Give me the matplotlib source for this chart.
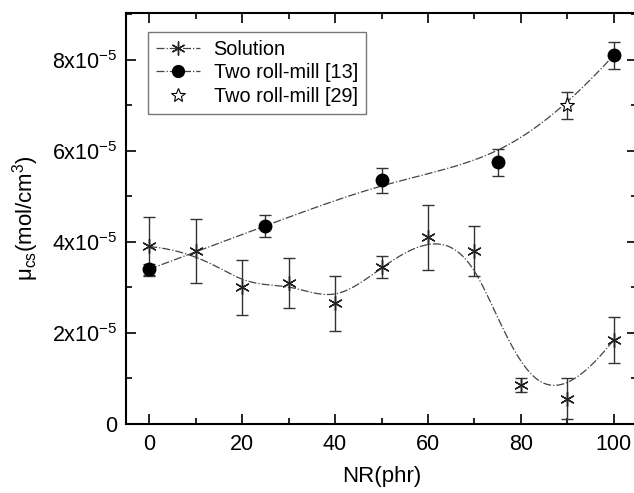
import numpy as np
import matplotlib
matplotlib.use("Agg")
import matplotlib.pyplot as plt

plt.rcParams['font.family'] = ['Liberation Sans', 'DejaVu Sans']
plt.rcParams['mathtext.fontset'] = 'custom'
plt.rcParams['mathtext.rm'] = 'Liberation Sans'
plt.rcParams['mathtext.it'] = 'Liberation Sans'

# Data (values in 1e-5 mol/cm^3)
sol_x = [0, 10, 20, 30, 40, 50, 60, 70, 80, 90, 100]
sol_y = [3.9, 3.8, 3.0, 3.1, 2.65, 3.45, 4.1, 3.8, 0.85, 0.55, 1.85]
sol_err = [0.65, 0.7, 0.6, 0.55, 0.6, 0.25, 0.72, 0.55, 0.15, 0.45, 0.5]

mill13_x = [0, 25, 50, 75, 100]
mill13_y = [3.4, 4.35, 5.35, 5.75, 8.1]
mill13_err = [0.12, 0.25, 0.27, 0.3, 0.3]

mill29_x = [90]
mill29_y = [7.0]
mill29_err = [0.3]

yticks = [0, 2, 4, 6, 8]
ytick_labels = ['0', r'2x10$^{-5}$', r'4x10$^{-5}$', r'6x10$^{-5}$', r'8x10$^{-5}$']
xticks = [0, 20, 40, 60, 80, 100]


def bspline(px, py, num=400):
    """Clamped uniform cubic B-spline using the points as control points."""
    P = np.column_stack([px, py]).astype(float)
    n = len(P)
    k = 3
    inner = np.arange(1, n - k)
    t = np.concatenate([np.zeros(k + 1), inner, np.full(k + 1, n - k)]).astype(float)
    u = np.linspace(0, n - k, num)
    u[-1] -= 1e-9
    N = np.zeros((num, len(t) - 1))
    for i in range(len(t) - 1):
        N[:, i] = ((u >= t[i]) & (u < t[i + 1])).astype(float)
    for d in range(1, k + 1):
        Nn = np.zeros((num, len(t) - 1 - d))
        for i in range(len(t) - 1 - d):
            a = 0.0
            if t[i + d] != t[i]:
                a = (u - t[i]) / (t[i + d] - t[i]) * N[:, i]
            b = 0.0
            if t[i + d + 1] != t[i + 1]:
                b = (t[i + d + 1] - u) / (t[i + d + 1] - t[i + 1]) * N[:, i + 1]
            Nn[:, i] = a + b
        N = Nn
    C = N @ P
    return C[:, 0], C[:, 1]


fig = plt.figure(figsize=(6.34, 4.93), dpi=100)
# axes: left spine at x=126px, right spine just past the canvas edge, top at 13px, bottom at 424px
ax = fig.add_axes([126 / 634, 1 - 424 / 493, 511 / 634, 411 / 493])

col = '#333333'
cx, cy = bspline(sol_x, sol_y)
ax.plot(cx, cy, color='#444444', lw=0.9, ls='-.', zorder=2)
mx = mill13_x[:4] + mill29_x + mill13_x[4:]
my = mill13_y[:4] + mill29_y + mill13_y[4:]
cx2, cy2 = bspline(mx, my)
ax.plot(cx2, cy2, color='#444444', lw=0.9, ls='-.', zorder=2)

asterisk = (6, 2, 0)
ax.errorbar(sol_x, sol_y, yerr=sol_err, fmt='none', ecolor=col, elinewidth=1.0, capsize=4.5, capthick=1.0, zorder=3)
ax.plot(sol_x, sol_y, ls='none', marker=asterisk, ms=10.5, mec='#222222', mew=1.0, zorder=4)
ax.errorbar(mill13_x, mill13_y, yerr=mill13_err, fmt='none', ecolor=col, elinewidth=1.0, capsize=4.5, capthick=1.0, zorder=3)
ax.plot(mill13_x, mill13_y, ls='none', marker='o', ms=9, mfc='black', mec='black', zorder=4)
ax.errorbar(mill29_x, mill29_y, yerr=mill29_err, fmt='none', ecolor=col, elinewidth=1.0, capsize=4.5, capthick=1.0, zorder=3)
ax.plot(mill29_x, mill29_y, ls='none', marker='*', ms=11, mfc='white', mec='black', mew=0.8, zorder=4)

h1, = ax.plot([], [], color='#444444', lw=0.9, ls='-.', marker=asterisk, ms=10, mec='#222222', mew=1.0)
h2, = ax.plot([], [], color='#444444', lw=0.9, ls='-.', marker='o', ms=8.5, mfc='black', mec='black')
h3, = ax.plot([], [], ls='none', marker='*', ms=10, mfc='white', mec='black', mew=0.8)
leg = ax.legend([h1, h2, h3], ['Solution', 'Two roll-mill [13]', 'Two roll-mill [29]'],
                loc='upper left', bbox_to_anchor=(0.043, 0.954), fontsize=14.3,
                frameon=True, fancybox=False, edgecolor='#555555', borderpad=0.4,
                handlelength=2.2, handletextpad=0.7, labelspacing=0.22, borderaxespad=0)
leg.get_frame().set_linewidth(1.0)

ax.set_xlim(-5, 105)
ax.set_ylim(0, 9.03)
ax.set_xticks(xticks)
ax.set_xticks(np.arange(10, 100, 20), minor=True)
ax.set_yticks(yticks)
ax.set_yticklabels(ytick_labels)
ax.set_yticks([1, 3, 5, 7, 9], minor=True)
ax.tick_params(which='both', direction='in', top=True, right=True, labelsize=15.5, width=1.2)
ax.tick_params(which='major', length=7)
ax.tick_params(which='minor', length=4)
ax.tick_params(axis='x', pad=7)
ax.tick_params(axis='y', pad=6)
for s in ax.spines.values():
    s.set_linewidth(1.5)

ax.set_xlabel('NR(phr)', fontsize=16, labelpad=8)
ax.set_ylabel(r'$\mathregular{\mu_{cs}(mol/cm^3)}$', fontsize=16, labelpad=8)

fig.savefig('out.png', dpi=100)
